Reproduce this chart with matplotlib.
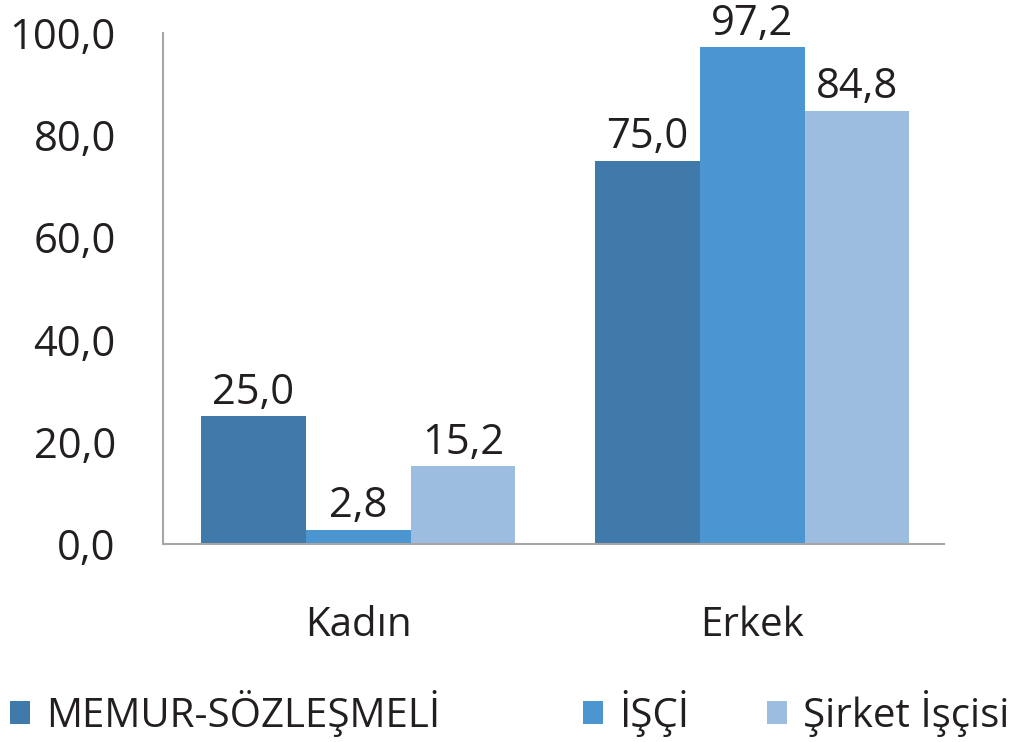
import matplotlib.pyplot as plt
import numpy as np

plt.rcParams['font.family'] = ['Open Sans', 'DejaVu Sans']

categories = ['Kadın', 'Erkek']
series_names = ['MEMUR-SÖZLEŞMELİ', 'İŞÇİ', 'Şirket İşçisi']
memur = [25.0, 75.0]
isci = [2.8, 97.2]
sirket = [15.2, 84.8]
colors = ['#3F7AAB', '#4B96D1', '#9DBDE0']
txt = '#231F20'

fig = plt.figure(figsize=(10.21, 7.42), dpi=100)
ax = fig.add_axes([0.1597, 0.2668, 0.765, 0.6887])

x = np.arange(len(categories))
w = 0.266
handles = []
for i, (vals, name) in enumerate(zip([memur, isci, sirket], series_names)):
    bars = ax.bar(x + (i - 1) * w, vals, w, color=colors[i], label=name)
    handles.append(bars)
    for b, v in zip(bars, vals):
        ax.annotate(f'{v:.1f}'.replace('.', ','), (b.get_x() + b.get_width() / 2, v),
                    xytext=(0, 9), textcoords='offset points',
                    ha='center', va='baseline', fontsize=30, color=txt)

ax.set_xlim(-0.495, 1.487)
ax.set_ylim(0, 100)
ax.set_yticks(np.arange(0, 101, 20))
ax.set_yticklabels([f'{t:.1f}'.replace('.', ',') for t in np.arange(0, 101, 20)])
ax.set_xticks(x)
ax.set_xticklabels(categories)
ax.tick_params(axis='y', length=0, pad=34, labelsize=30, labelcolor=txt)
ax.tick_params(axis='x', length=0, pad=44, labelsize=29, labelcolor=txt)
for s in ['top', 'right']:
    ax.spines[s].set_visible(False)
for s in ['left', 'bottom']:
    ax.spines[s].set_color('#A6A6A6')
    ax.spines[s].set_linewidth(1.5)

# one legend per entry, placed like the reference
leg_x = [10 / 1021, 583 / 1021, 767 / 1021]
for h, name, lx in zip(handles, series_names, leg_x):
    fig.legend([h], [name], loc='center left', bbox_to_anchor=(lx, 0.039),
               frameon=False, fontsize=29, handlelength=0.5, handleheight=0.5,
               handletextpad=0.4, borderpad=0, borderaxespad=0, labelcolor=txt)

fig.savefig('out.png', dpi=100)
